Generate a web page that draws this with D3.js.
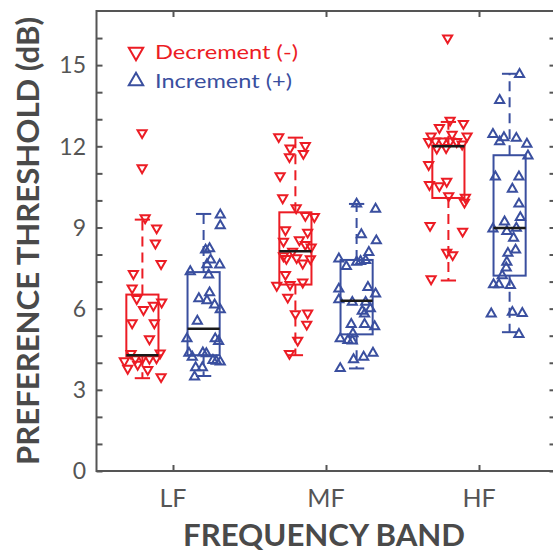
<!DOCTYPE html>
<html>
<head>
<meta charset="utf-8">
<script src="https://cdn.jsdelivr.net/npm/d3@7"></script>
<style>
  html, body { margin: 0; padding: 0; background: #fff; }
  svg { display: block; font-family: Lato, "Open Sans", sans-serif; }
</style>
</head>
<body>
<svg id="chart" width="553" height="551"></svg>
<script>
// Frequency bands and the two adjustment directions
const bands = ["LF", "MF", "HF"];
const seriesNames = ["Decrement (-)", "Increment (+)"];
const yTickValues = [0, 3, 6, 9, 12, 15];

// Individual preference thresholds (dB) per band, per direction
const lfDecValues = [12.5, 11.2, 9.35, 8.98, 8.42, 7.66, 7.29, 6.76, 6.37, 6.12, 6.24, 5.96, 5.47, 5.47, 4.88, 4.36, 4.34, 4.07, 4.16, 4.17, 4.16, 4.18, 3.79, 3.94, 3.75, 3.48];
const lfIncValues = [9.47, 9.07, 8.17, 8.22, 7.8, 7.63, 7.62, 7.37, 7.25, 6.59, 6.37, 6.30, 6.14, 5.96, 5.54, 4.89, 4.89, 4.79, 4.36, 4.21, 4.37, 4.34, 4.09, 4.03, 4.06, 3.82, 3.82, 3.48];
const mfDecValues = [12.35, 11.93, 12.02, 11.73, 11.61, 10.91, 10.09, 9.72, 9.44, 9.40, 8.91, 8.82, 8.49, 8.54, 8.37, 8.27, 8.12, 7.95, 7.85, 7.88, 7.68, 7.84, 7.26, 6.98, 6.86, 6.89, 6.42, 5.81, 5.83, 5.42, 4.83, 4.34];
const mfIncValues = [9.87, 9.68, 8.74, 8.51, 8.08, 7.84, 7.56, 7.72, 7.75, 7.78, 6.79, 6.73, 6.55, 6.33, 6.24, 6.24, 5.91, 6.00, 5.81, 5.42, 5.42, 5.34, 5.08, 4.89, 4.83, 4.81, 4.12, 4.21, 4.36, 3.79];
const hfDecValues = [16.0, 12.96, 12.69, 12.84, 12.38, 12.44, 12.38, 12.17, 12.19, 12.19, 12.19, 12.17, 11.93, 11.95, 12.08, 11.32, 10.58, 10.54, 10.70, 10.17, 10.11, 9.93, 9.07, 8.86, 8.08, 7.99, 7.10];
const hfIncValues = [14.66, 13.7, 12.44, 12.17, 12.32, 12.30, 12.08, 11.65, 10.87, 10.87, 10.42, 9.87, 9.37, 9.21, 8.95, 8.86, 8.98, 8.61, 8.05, 8.17, 7.72, 7.51, 7.22, 6.89, 6.89, 6.86, 5.81, 5.87, 5.83, 5.05];

// Horizontal jitter of each point, in band units around its box centre
const lfDecJitter = [-0.002, -0.002, 0.018, 0.093, 0.085, 0.122, -0.059, -0.067, -0.037, 0.072, 0.126, 0.007, -0.067, 0.078, 0.046, 0.116, -0.074, -0.118, -0.046, 0.0, 0.046, 0.092, -0.096, -0.031, 0.035, 0.122];
const lfIncJitter = [0.109, 0.109, 0.013, 0.039, 0.046, 0.022, 0.105, -0.087, 0.033, 0.039, -0.031, 0.022, 0.072, 0.109, -0.041, -0.109, 0.076, 0.098, -0.096, -0.074, -0.005, 0.018, 0.061, 0.109, 0.083, -0.052, -0.008, -0.059];
const mfDecJitter = [-0.109, -0.035, 0.065, 0.052, -0.039, -0.1, -0.083, 0.005, 0.065, 0.124, -0.065, 0.08, -0.078, 0.026, 0.065, 0.103, -0.018, -0.078, -0.059, 0.008, 0.048, 0.098, -0.065, 0.048, -0.122, -0.035, -0.05, 0.0, 0.08, 0.074, 0.015, -0.039];
const mfIncJitter = [0.0, 0.124, 0.031, 0.129, 0.08, -0.116, -0.067, 0.0, 0.026, 0.059, 0.074, -0.116, 0.124, -0.116, -0.028, 0.059, 0.037, 0.09, 0.052, -0.035, 0.052, 0.118, -0.024, -0.107, -0.057, -0.028, -0.02, 0.046, 0.107, -0.107];
const hfDecJitter = [-0.005, 0.011, -0.059, 0.098, -0.113, 0.024, 0.122, -0.129, -0.085, -0.039, 0.011, 0.054, -0.076, -0.015, 0.09, -0.129, -0.124, -0.059, -0.011, 0.002, 0.111, 0.105, -0.12, 0.093, -0.011, 0.028, -0.113];
const hfIncJitter = [0.065, -0.065, -0.109, -0.065, -0.037, 0.044, 0.113, 0.12, -0.093, 0.061, 0.018, 0.061, 0.07, -0.033, -0.109, -0.018, 0.044, 0.026, -0.011, 0.039, -0.018, -0.022, -0.048, -0.105, -0.07, 0.005, -0.12, 0.018, 0.083, 0.061];

// Box summaries per band: [lower whisker, Q1, median, Q3, upper whisker]
const decBoxes = [
  [3.43, 4.24, 4.28, 6.52, 9.29],
  [4.28, 6.89, 8.12, 9.56, 12.32],
  [7.04, 10.09, 12.0, 12.02, 12.9]
];
const incBoxes = [
  [3.51, 4.28, 5.26, 7.35, 9.5],
  [3.79, 5.05, 6.29, 7.80, 9.87],
  [5.13, 7.22, 8.98, 11.67, 14.68]
];

const colors = { dec: "#ec1c24", inc: "#3a4f9f" };
const axisColor = "#555555";
const titleColor = "#4a4a4a";

const svg = d3.select("#chart");

const x = d3.scaleLinear().domain([0.5, 3.5]).range([96.5, 555.5]);
const y = d3.scaleLinear().domain([0, 17]).range([471, 11]);

const boxOffset = 0.2;   // band units between band centre and each box
const boxHalf = 0.105;   // half box width in band units
const capHalf = 0.05;

const groups = [
  { key: "dec", band: 0, values: lfDecValues, jitter: lfDecJitter, box: decBoxes[0], dir: -1 },
  { key: "inc", band: 0, values: lfIncValues, jitter: lfIncJitter, box: incBoxes[0], dir: 1 },
  { key: "dec", band: 1, values: mfDecValues, jitter: mfDecJitter, box: decBoxes[1], dir: -1 },
  { key: "inc", band: 1, values: mfIncValues, jitter: mfIncJitter, box: incBoxes[1], dir: 1 },
  { key: "dec", band: 2, values: hfDecValues, jitter: hfDecJitter, box: decBoxes[2], dir: -1 },
  { key: "inc", band: 2, values: hfIncValues, jitter: hfIncJitter, box: incBoxes[2], dir: 1 }
];

const plot = svg.append("g");

// Axes frame with inward ticks (one per dB, labels every 3 dB)
const yMinor = d3.range(0, 17, 1);
const leftAxis = d3.axisLeft(y).tickValues(yMinor).tickSize(-6).tickFormat("");
const rightAxis = d3.axisRight(y).tickValues(yMinor).tickSize(-6).tickFormat("");
const bottomAxis = d3.axisBottom(x).tickValues([1, 2, 3]).tickSize(-6).tickFormat("");
const topAxis = d3.axisTop(x).tickValues([1, 2, 3]).tickSize(-6).tickFormat("");

function styleAxis(g) {
  g.select(".domain").remove();
  g.selectAll(".tick line").attr("stroke", axisColor).attr("stroke-width", 2);
}
svg.append("g").attr("transform", `translate(${x(0.5)},0)`).call(leftAxis).call(styleAxis);
svg.append("g").attr("transform", `translate(${x(3.5)},0)`).call(rightAxis).call(styleAxis);
svg.append("g").attr("transform", `translate(0,${y(0)})`).call(bottomAxis).call(styleAxis);
svg.append("g").attr("transform", `translate(0,${y(17)})`).call(topAxis).call(styleAxis);

svg.append("rect")
  .attr("x", x(0.5)).attr("y", y(17))
  .attr("width", x(3.5) - x(0.5)).attr("height", y(0) - y(17))
  .attr("fill", "none").attr("stroke", axisColor).attr("stroke-width", 2);

// Tick labels
svg.append("g").selectAll("text").data(yTickValues).join("text")
  .attr("x", 86).attr("y", d => y(d))
  .attr("dy", "0.36em")
  .attr("text-anchor", "end")
  .attr("font-size", 23)
  .attr("fill", axisColor)
  .text(d => d);

svg.append("g").selectAll("text").data(bands).join("text")
  .attr("x", (d, i) => x(i + 1)).attr("y", 507)
  .attr("text-anchor", "middle")
  .attr("font-size", 25)
  .attr("fill", axisColor)
  .text(d => d);

// Axis titles
svg.append("text")
  .attr("x", 324).attr("y", 546)
  .attr("text-anchor", "middle")
  .attr("font-size", 30).attr("font-weight", 700)
  .attr("textLength", 282).attr("lengthAdjust", "spacingAndGlyphs")
  .attr("fill", titleColor)
  .text("FREQUENCY BAND");

svg.append("text")
  .attr("transform", `translate(38.5,241) rotate(-90)`)
  .attr("text-anchor", "middle")
  .attr("font-size", 30).attr("font-weight", 700)
  .attr("textLength", 448).attr("lengthAdjust", "spacingAndGlyphs")
  .attr("fill", titleColor)
  .text("PREFERENCE THRESHOLD (dB)");

// Boxes and whiskers
groups.forEach(gp => {
  const cx = gp.band + 1 + gp.dir * boxOffset;
  const [lo, q1, med, q3, hi] = gp.box;
  const c = colors[gp.key];
  const g = plot.append("g");
  g.append("line")
    .attr("x1", x(cx)).attr("x2", x(cx)).attr("y1", y(q3)).attr("y2", y(hi))
    .attr("stroke", c).attr("stroke-width", 2).attr("stroke-dasharray", "10,6");
  g.append("line")
    .attr("x1", x(cx)).attr("x2", x(cx)).attr("y1", y(q1)).attr("y2", y(lo))
    .attr("stroke", c).attr("stroke-width", 2).attr("stroke-dasharray", "10,6");
  [lo, hi].forEach(v => {
    g.append("line")
      .attr("x1", x(cx - capHalf)).attr("x2", x(cx + capHalf))
      .attr("y1", y(v)).attr("y2", y(v))
      .attr("stroke", c).attr("stroke-width", 2);
  });
  g.append("rect")
    .attr("x", x(cx - boxHalf)).attr("y", y(q3))
    .attr("width", x(cx + boxHalf) - x(cx - boxHalf))
    .attr("height", y(q1) - y(q3))
    .attr("fill", "none").attr("stroke", c).attr("stroke-width", 2);
});

// Individual points
const tri = d3.symbol().type(d3.symbolTriangle).size(36);
groups.forEach(gp => {
  const cx = gp.band + 1 + gp.dir * boxOffset;
  const c = colors[gp.key];
  const rot = gp.key === "dec" ? 180 : 0;
  plot.append("g").selectAll("path")
    .data(gp.values.map((v, i) => ({ v, j: gp.jitter[i] })))
    .join("path")
    .attr("d", tri)
    .attr("transform", d => `translate(${x(cx + d.j)},${y(d.v)}) rotate(${rot})`)
    .attr("fill", "none")
    .attr("stroke", c)
    .attr("stroke-width", 2);
});

// Medians on top
groups.forEach(gp => {
  const cx = gp.band + 1 + gp.dir * boxOffset;
  const med = gp.box[2];
  plot.append("line")
    .attr("x1", x(cx - boxHalf)).attr("x2", x(cx + boxHalf))
    .attr("y1", y(med)).attr("y2", y(med))
    .attr("stroke", "#1a1a1a").attr("stroke-width", 2.5);
});

// Legend
const legend = svg.append("g");
const legendTri = d3.symbol().type(d3.symbolTriangle).size(90);
const legendWidths = [143, 137];
seriesNames.forEach((name, i) => {
  const key = i === 0 ? "dec" : "inc";
  const cy = 52 + i * 29;
  legend.append("path")
    .attr("d", legendTri)
    .attr("transform", `translate(136,${cy}) rotate(${i === 0 ? 180 : 0})`)
    .attr("fill", "none").attr("stroke", colors[key]).attr("stroke-width", 2);
  legend.append("text")
    .attr("x", 155).attr("y", cy)
    .attr("dy", "0.36em")
    .attr("font-size", 20)
    .attr("textLength", legendWidths[i]).attr("lengthAdjust", "spacingAndGlyphs")
    .attr("fill", colors[key])
    .text(name);
});
</script>
</body>
</html>
